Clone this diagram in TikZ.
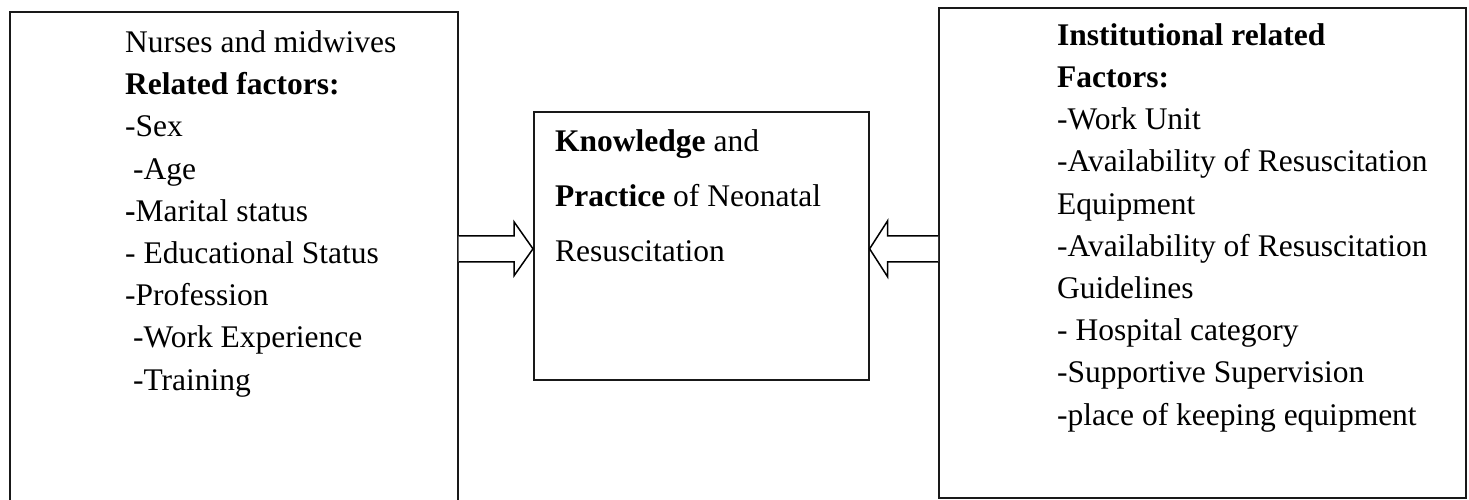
\documentclass[tikz,border=0pt]{standalone}
\usepackage{fontspec}
\setmainfont{Liberation Serif}
\usetikzlibrary{calc}

\begin{document}
\begin{tikzpicture}[
    x=1pt, y=-1pt,
    panel/.style={rectangle, draw=black!90, line width=1.6pt, anchor=north west, inner sep=0pt},
    itemlist/.style={anchor=base west, align=left, inner sep=0pt, font=\fontsize{31.5}{42.2}\selectfont},
    hollow/.style={draw=black, line width=1.5pt, fill=white, line join=miter}
]
\useasboundingbox (0,0) rectangle (1469,500);

% Boxes
\node[panel, minimum width=448pt, minimum height=520pt] (staff) at (9,11) {};
\node[panel, minimum width=335pt, minimum height=268pt] (know) at (533,111) {};
\node[panel, minimum width=527pt, minimum height=490pt] (inst) at (938,7) {};

% Left: nurse and midwife factors (placed by the last baseline)
\node[itemlist] (stafftext) at (125,390) {Nurses and midwives\\
    \textbf{Related factors:}\\
    -Sex\\
    \hspace*{.25em}-Age\\
    \textbf{-}Marital status\\
    - Educational Status\\
    -Profession\\
    \hspace*{.25em}-Work Experience\\
    \hspace*{.25em}-Training};

% Middle: outcome
\node[itemlist, font=\fontsize{31.5}{55}\selectfont] (knowtext) at (555,261) {\textbf{Knowledge} and\\
    \textbf{Practice} of Neonatal\\
    Resuscitation};

% Right: institutional factors
\node[itemlist] (insttext) at (1057,425) {\textbf{Institutional related}\\
    \textbf{Factors:}\\
    -Work Unit\\
    -Availability of Resuscitation\\
    Equipment\\
    -Availability of Resuscitation\\
    Guidelines\\
    - Hospital category\\
    -Supportive Supervision\\
    -place of keeping equipment};

% Hollow arrows
\coordinate (ltip) at ($(know.west)+(0,3)$);
\coordinate (rtip) at ($(know.east)+(0,3)$);
\draw[hollow] ($(staff.east |- ltip)+(0,-13)$) -- ($(ltip)+(-19,-13)$) -- ($(ltip)+(-19,-27)$) -- (ltip)
    -- ($(ltip)+(-19,27)$) -- ($(ltip)+(-19,13)$) -- ($(staff.east |- ltip)+(0,13)$);
\draw[hollow] ($(inst.west |- rtip)+(0,-13)$) -- ($(rtip)+(18,-13)$) -- ($(rtip)+(18,-28)$) -- (rtip)
    -- ($(rtip)+(18,28)$) -- ($(rtip)+(18,13)$) -- ($(inst.west |- rtip)+(0,13)$);

\end{tikzpicture}
\end{document}
